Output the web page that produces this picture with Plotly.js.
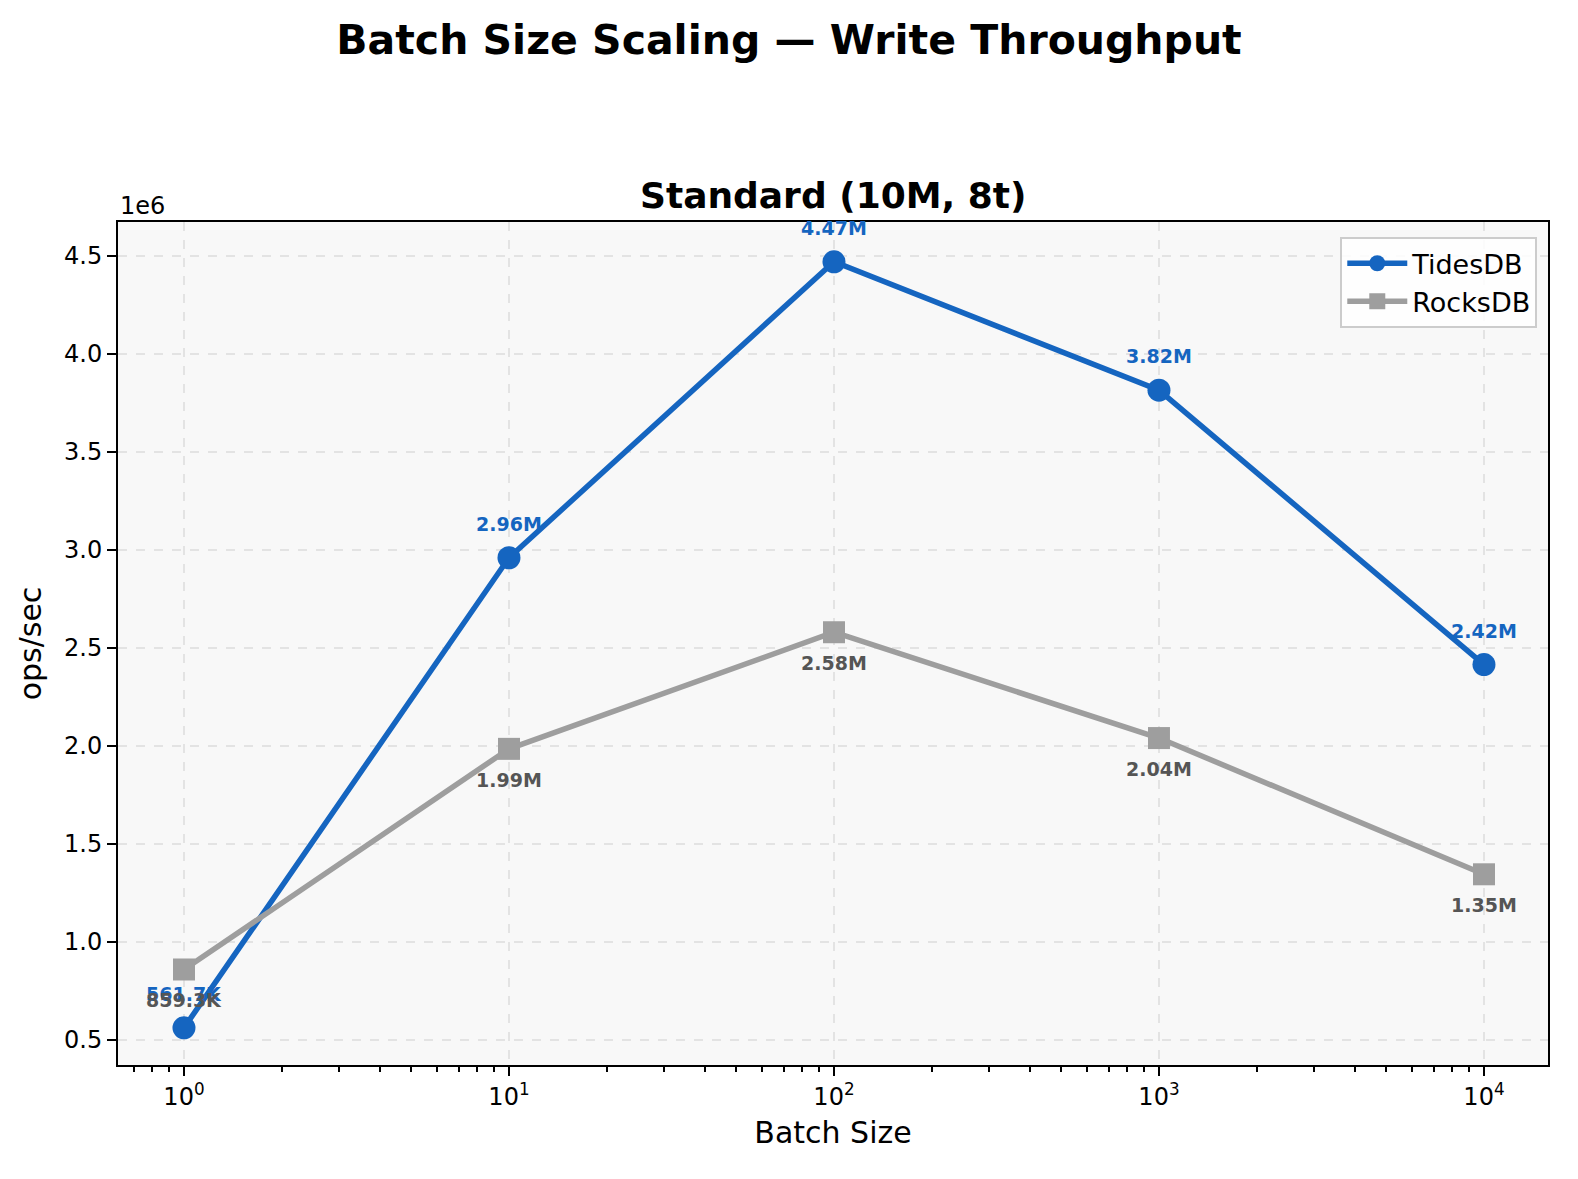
<!DOCTYPE html>
<html>
<head>
<meta charset="utf-8">
<script src="https://cdn.plot.ly/plotly-3.0.1.min.js"></script>
<style>
  html, body { margin: 0; padding: 0; background: #fff; overflow: hidden; }
  #chart { width: 1578px; height: 1179px; }
</style>
</head>
<body>
<div id="chart"></div>
<script>
var batchSizes = [1, 10, 100, 1000, 10000];
var tidesOps = [561700, 2960000, 4470000, 3815000, 2415000];
var rocksOps = [859300, 1985000, 2580000, 2040000, 1345000];
var tidesLabels = ["561.7K", "2.96M", "4.47M", "3.82M", "2.42M"];
var rocksLabels = ["859.3K", "1.99M", "2.58M", "2.04M", "1.35M"];
var yTickVals = [500000, 1000000, 1500000, 2000000, 2500000, 3000000, 3500000, 4000000, 4500000];
var yTickText = ["0.5", "1.0", "1.5", "2.0", "2.5", "3.0", "3.5", "4.0", "4.5"];
var xTickText = ["10<sup>0</sup>", "10<sup>1</sup>", "10<sup>2</sup>", "10<sup>3</sup>", "10<sup>4</sup>"];

// minor log ticks 2..9 per decade
var minorVals = [];
[0.1, 1, 10, 100, 1000, 10000].forEach(function (d) {
    for (var k = 2; k <= 9; k++) minorVals.push(d * k);
});

var font = "DejaVu Sans, sans-serif";

var tides = {
    x: batchSizes, y: tidesOps, type: 'scatter', mode: 'lines+markers', name: 'TidesDB',
    line: { color: '#1565c0', width: 5.5 },
    marker: { color: '#1565c0', size: 23, symbol: 'circle' }
};
var rocks = {
    x: batchSizes, y: rocksOps, type: 'scatter', mode: 'lines+markers', name: 'RocksDB',
    line: { color: '#9e9e9e', width: 5.5 },
    marker: { color: '#9e9e9e', size: 22, symbol: 'square' }
};

var annotations = [];
batchSizes.forEach(function (b, i) {
    annotations.push({
        x: Math.log10(b), y: tidesOps[i], text: '<b>' + tidesLabels[i] + '</b>',
        showarrow: false, yshift: 34, font: { family: font, size: 19, color: '#1565c0' }
    });
    annotations.push({
        x: Math.log10(b), y: rocksOps[i], text: '<b>' + rocksLabels[i] + '</b>',
        showarrow: false, yshift: -31, font: { family: font, size: 19, color: '#555555' }
    });
});
annotations.push({
    xref: 'paper', yref: 'paper', x: 0, y: 1, xanchor: 'left', yanchor: 'bottom',
    text: '1e6', showarrow: false, yshift: 0, font: { family: font, size: 24, color: '#000' }
});
annotations.push({
    xref: 'paper', yref: 'paper', x: 0.5, y: 1, xanchor: 'center', yanchor: 'bottom',
    text: '<b>Standard (10M, 8t)</b>', showarrow: false, yshift: 4,
    font: { family: font, size: 36, color: '#000' }
});

var layout = {
    width: 1578, height: 1179,
    paper_bgcolor: '#ffffff', plot_bgcolor: '#f8f8f8',
    font: { family: font, size: 24, color: '#000' },
    title: { text: '<b>Batch Size Scaling — Write Throughput</b>', x: 0.5, xanchor: 'center', y: 0.966, yanchor: 'middle',
             font: { family: font, size: 41, color: '#000' } },
    margin: { l: 118, r: 30, t: 222, b: 114 },
    showlegend: true,
    legend: { x: 0.9925, y: 0.982, xanchor: 'right', yanchor: 'top', bgcolor: 'rgba(255,255,255,0.85)',
              bordercolor: '#cccccc', borderwidth: 2, itemwidth: 60, tracegroupgap: 0,
              font: { family: font, size: 27 } },
    xaxis: {
        type: 'log', range: [-0.203, 4.197],
        tickvals: batchSizes, ticktext: xTickText,
        ticks: 'outside', ticklen: 9, tickwidth: 2, tickcolor: '#000',
        minor: { tickmode: 'array', tickvals: minorVals, ticks: 'outside', ticklen: 5, tickwidth: 1.5, tickcolor: '#000', showgrid: false },
        showline: true, linecolor: '#000', linewidth: 2, mirror: true,
        showgrid: true, gridcolor: '#e3e3e3', griddash: 'dash', gridwidth: 1.5,
        zeroline: false, tickfont: { size: 24 },
        title: { text: 'Batch Size', font: { size: 30 }, standoff: 12 }
    },
    yaxis: {
        range: [372000, 4673000],
        tickvals: yTickVals, ticktext: yTickText,
        ticks: 'outside', ticklen: 9, tickwidth: 2, tickcolor: '#000',
        showline: true, linecolor: '#000', linewidth: 2, mirror: true,
        showgrid: true, gridcolor: '#e3e3e3', griddash: 'dash', gridwidth: 1.5,
        zeroline: false, tickfont: { size: 24 },
        title: { text: 'ops/sec', font: { size: 30 }, standoff: 14 }
    },
    annotations: annotations
};

Plotly.newPlot(document.getElementById('chart'), [tides, rocks], layout, { displayModeBar: false });
</script>
</body>
</html>
